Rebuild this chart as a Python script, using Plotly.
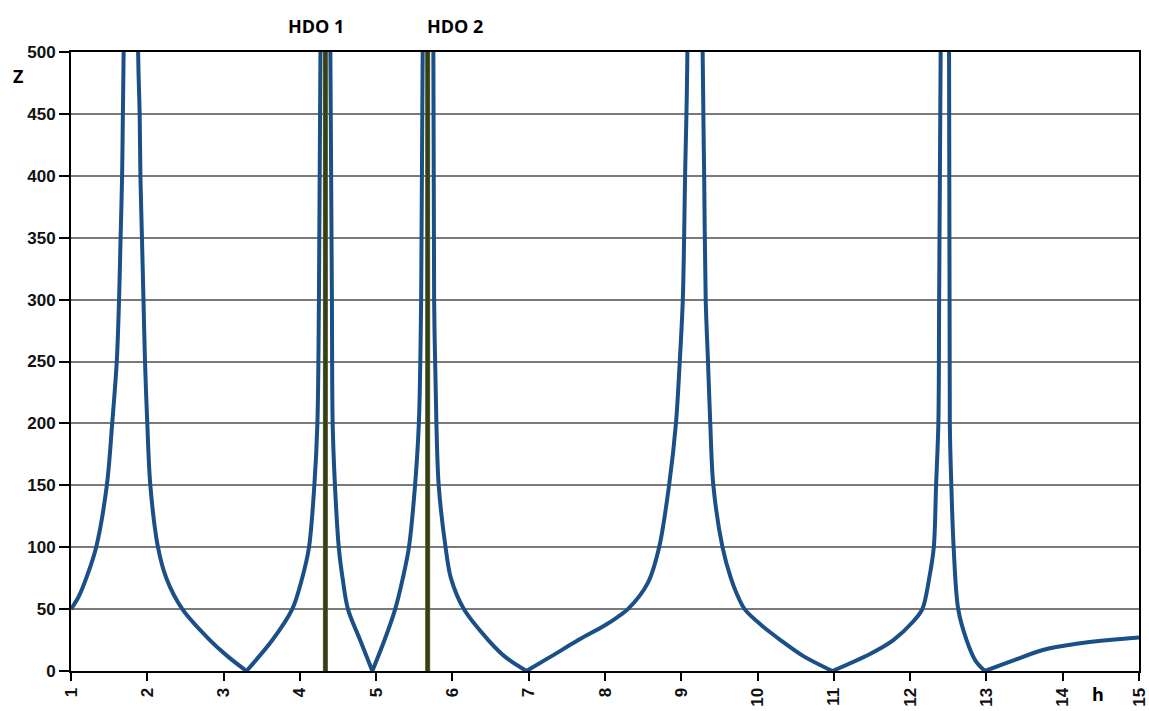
import plotly.graph_objects as go

# Harmonic order h and network impedance Z
h = [1.00, 1.10, 1.20, 1.33, 1.47, 1.54, 1.60, 1.63, 1.65, 1.67, 1.68, 1.69, 1.785,
     1.88, 1.90, 1.91, 1.93, 1.95, 1.97, 2.00, 2.04, 2.14, 2.25, 2.46, 2.82, 3.05, 3.30,
     3.64, 3.90, 4.03, 4.12, 4.19, 4.23, 4.25, 4.27, 4.335,
     4.40, 4.42, 4.43, 4.46, 4.51, 4.56, 4.63, 4.79, 4.95,
     5.11, 5.25, 5.35, 5.43, 5.51, 5.56, 5.59, 5.61, 5.68,
     5.75, 5.76, 5.79, 5.82, 5.91, 5.98, 6.15, 6.47, 6.70, 6.97,
     7.30, 7.65, 8.00, 8.15, 8.30, 8.56, 8.71, 8.84, 8.93, 8.98, 9.02, 9.05, 9.08, 9.18,
     9.28, 9.30, 9.32, 9.35, 9.38, 9.42, 9.54, 9.65, 9.73, 9.83, 10.05, 10.30, 10.60, 10.98,
     11.48, 11.78, 12.04, 12.16, 12.25, 12.31, 12.34, 12.37, 12.38, 12.40, 12.455,
     12.51, 12.52, 12.54, 12.57, 12.63, 12.74, 12.86, 12.98,
     13.31, 13.74, 14.18, 14.61, 15.00]
z = [50, 60, 75, 100, 150, 200, 250, 300, 350, 400, 450, 500, 3000,
     500, 450, 400, 350, 300, 250, 200, 150, 100, 75, 50, 25, 12, 0,
     25, 50, 75, 100, 150, 200, 300, 500, 3000,
     500, 300, 200, 150, 100, 75, 50, 25, 0,
     25, 50, 75, 100, 150, 200, 300, 500, 3000,
     500, 300, 200, 150, 100, 75, 50, 25, 11, 0,
     12, 25, 37, 43, 50, 71, 100, 150, 200, 250, 300, 400, 500, 3000,
     500, 400, 300, 250, 200, 150, 100, 75, 62, 50, 37, 25, 12, 0,
     14, 25, 40, 50, 75, 100, 150, 200, 300, 500, 3000,
     500, 200, 150, 100, 50, 25, 8, 0,
     7.5, 17, 22, 25, 27]

# Ripple-control (HDO) signal frequencies as harmonic orders
hdo_names = ["HDO 1", "HDO 2"]
hdo_h = [4.335, 5.675]
hdo_label_shift = [-9, 27]  # px offset of each caption from its line

x_ticks = list(range(1, 16))
y_ticks = list(range(0, 501, 50))

curve_color = "#1a4f88"
tick_font = dict(family="Liberation Sans, Arial, sans-serif", size=17,
                 color="#111111", weight="bold")
label_font = dict(family="Open Sans, Liberation Sans, sans-serif", size=18, color="#000")

fig = go.Figure()

# Split the impedance curve into monotonic branches (between zeros and poles)
# so every branch is smoothed on its own and the cusps stay sharp.
breaks = [0] + [i for i, v in enumerate(z) if v == 0 or v >= 3000] + [len(z) - 1]
breaks = sorted(set(breaks))
for a, b in zip(breaks[:-1], breaks[1:]):
    fig.add_trace(go.Scatter(x=h[a:b + 1], y=z[a:b + 1], mode="lines",
                             line=dict(color=curve_color, width=4, shape="spline",
                                       smoothing=0.9),
                             showlegend=False, hoverinfo="x+y"))

for name, hv in zip(hdo_names, hdo_h):
    fig.add_trace(go.Scatter(x=[hv, hv], y=[0, 500], mode="lines",
                             line=dict(color="#5f6324", width=5),
                             showlegend=False, hoverinfo="skip"))
    fig.add_trace(go.Scatter(x=[hv, hv], y=[0, 500], mode="lines",
                             line=dict(color="#33401a", width=3.5),
                             showlegend=False, hoverinfo="skip"))

annotations = [
    dict(text="<b>Z</b>", xref="paper", yref="paper", x=-0.05, y=0.962,
         xanchor="center", yanchor="middle", showarrow=False, font=label_font),
    dict(text="<b>h</b>", xref="paper", yref="paper", x=0.962, y=-0.060,
         xanchor="center", yanchor="bottom", showarrow=False,
         font=dict(family="Open Sans, Liberation Sans, sans-serif", size=18, color="#000")),
]
for name, hv, dx in zip(hdo_names, hdo_h, hdo_label_shift):
    annotations.append(dict(text="<b>" + name + "</b>", x=hv, xref="x", xshift=dx,
                            y=1.042, yref="paper", xanchor="center", yanchor="middle",
                            showarrow=False, font=label_font))

fig.update_layout(
    width=1149, height=711,
    margin=dict(l=71, r=10, t=52, b=40, autoexpand=False),
    paper_bgcolor="white", plot_bgcolor="white",
    annotations=annotations,
)
fig.update_xaxes(range=[1, 15], tickvals=x_ticks, ticktext=[str(v) for v in x_ticks],
                 tickangle=-90, showgrid=False, zeroline=False, automargin=False,
                 showline=True, linecolor="#000", linewidth=2, mirror=True,
                 ticks="outside", ticklen=8, tickwidth=2, tickcolor="#000",
                 tickfont=tick_font)
fig.update_yaxes(range=[0, 500], tickvals=y_ticks, ticktext=[str(v) for v in y_ticks],
                 showgrid=True, gridcolor="#7a7a7a", gridwidth=1.5, zeroline=False,
                 automargin=False,
                 showline=True, linecolor="#000", linewidth=2, mirror=True,
                 ticks="outside", ticklen=10, tickwidth=2, tickcolor="#000",
                 tickfont=tick_font)

fig.write_html("out.html")
